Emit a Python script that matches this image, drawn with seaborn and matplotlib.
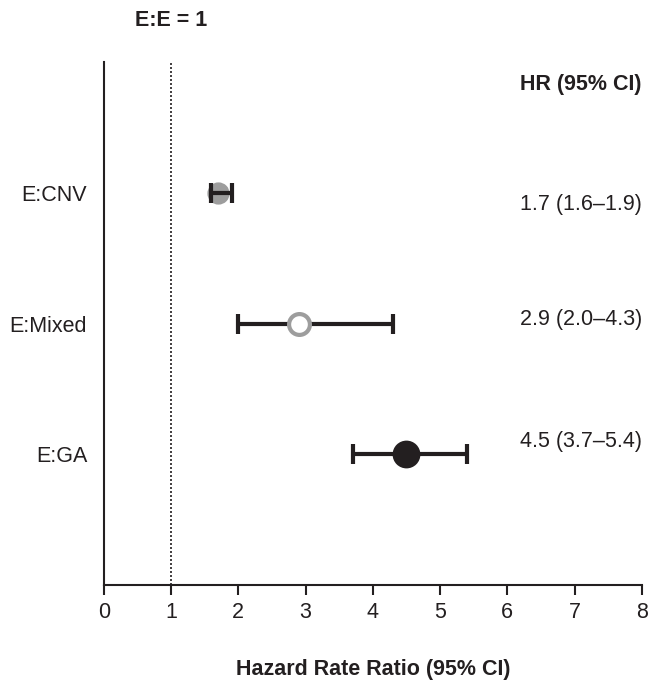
import matplotlib
matplotlib.use("Agg")
import matplotlib.pyplot as plt
import seaborn as sns
import pandas as pd

categories = ["E:CNV", "E:Mixed", "E:GA"]
hr = [1.7, 2.9, 4.5]
ci_low = [1.6, 2.0, 3.7]
ci_high = [1.9, 4.3, 5.4]
hr_labels = ["1.7 (1.6\u20131.9)", "2.9 (2.0\u20134.3)", "4.5 (3.7\u20135.4)"]
x_ticks = [0, 1, 2, 3, 4, 5, 6, 7, 8]

sns.set_theme(style="white")
plt.rcParams['font.family'] = ['Liberation Sans', 'DejaVu Sans']

df = pd.DataFrame({"cat": categories, "hr": hr, "lo": ci_low, "hi": ci_high})
df["y"] = range(1, len(categories) + 1)

fig = plt.figure(figsize=(6.49, 6.82), dpi=100)
ax = fig.add_axes([0.160, 0.142, 0.829, 0.767])

dark = "#231f20"
gray = "#9d9d9d"
FS = 15.5

# styles per row
face = [gray, "white", dark]
edge = [gray, gray, dark]
msize = [13, 15, 17]
err_z = [4, 2, 2]
pt_z = [3, 3, 3]

ax.axvline(1, color=dark, linestyle=(0, (1.2, 1.2)), linewidth=1.2, zorder=1)

for i, row in df.iterrows():
    ax.errorbar([row.hr], [row.y], xerr=[[row.hr - row.lo], [row.hi - row.hr]],
                fmt="none", ecolor=dark, elinewidth=3, capsize=7, capthick=3,
                zorder=err_z[i])
    sns.scatterplot(x=[row.hr], y=[row.y], ax=ax, s=msize[i] ** 2,
                    color=face[i], edgecolor=edge[i], linewidth=3,
                    zorder=pt_z[i], legend=False)

ax.set_xlim(0, 8)
ax.set_ylim(4, 0)
ax.set_xticks(x_ticks)
ax.set_xticklabels([str(t) for t in x_ticks], fontsize=FS)
ax.set_yticks(df["y"])
ax.set_yticklabels(categories, fontsize=FS)
ax.tick_params(axis="x", direction="out", length=7, width=1.5, color=dark,
               bottom=True, pad=5, labelcolor=dark)
ax.tick_params(axis="y", length=0, pad=12, labelcolor=dark)

for s in ["top", "right"]:
    ax.spines[s].set_visible(False)
for s in ["left", "bottom"]:
    ax.spines[s].set_color(dark)
    ax.spines[s].set_linewidth(1.5)

text_offsets = [0.09, -0.03, -0.10]
for i, lab in enumerate(hr_labels):
    ax.text(8, df["y"][i] + text_offsets[i], lab, ha="right", va="center",
            fontsize=FS, color=dark)
ax.text(8, 0.17, "HR (95% CI)", ha="right", va="center", fontsize=FS,
        fontweight="bold", color=dark)

ax.text(1, -0.32, "E:E = 1", ha="center", va="center", fontsize=FS,
        fontweight="bold", color=dark, clip_on=False)

ax.set_xlabel("Hazard Rate Ratio (95% CI)", fontsize=FS, fontweight="bold",
              color=dark, labelpad=26)
ax.set_ylabel("")

fig.savefig("out.png", dpi=100)
